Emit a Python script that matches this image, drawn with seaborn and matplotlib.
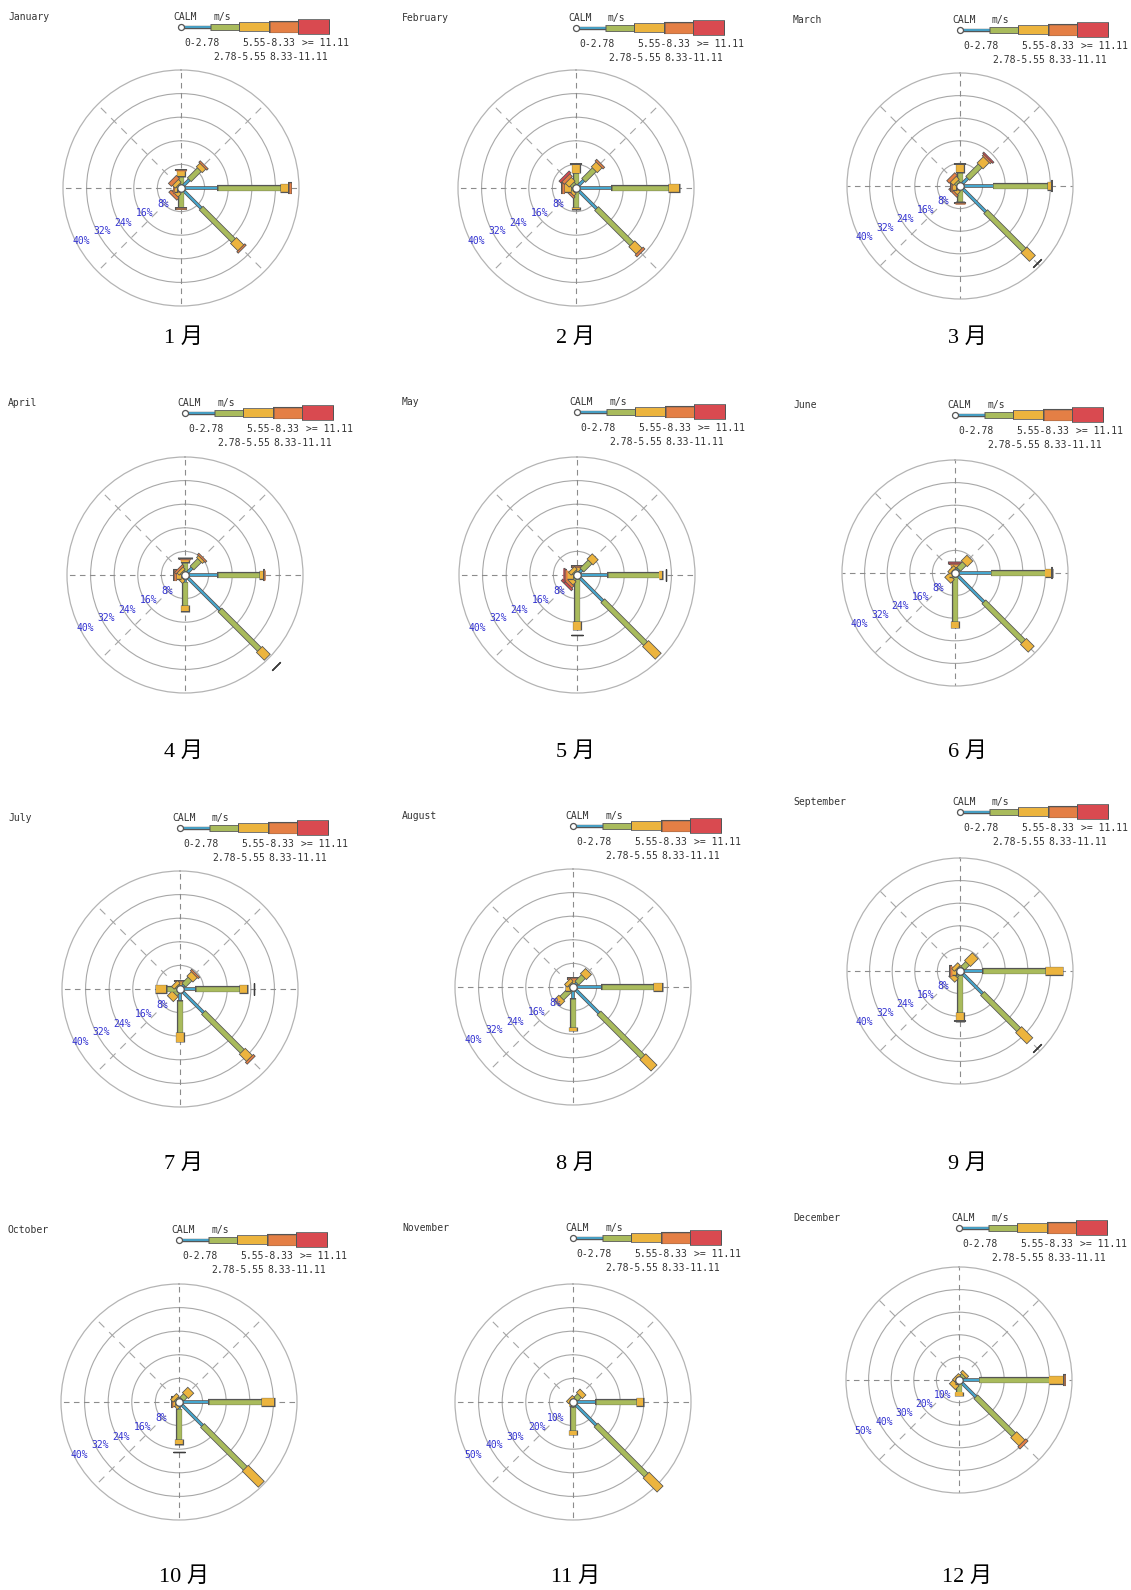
import numpy as np
import matplotlib
matplotlib.use("Agg")
import matplotlib.pyplot as plt
import seaborn as sns

sns.set_theme(style="white")
plt.rcParams['font.family'] = ['DejaVu Sans Mono', 'DejaVu Sans']

# ---- data ----
MONTHS = ['January', 'February', 'March', 'April', 'May', 'June',
          'July', 'August', 'September', 'October', 'November', 'December']
MONTH_LABELS = ['1 月', '2 月', '3 月', '4 月', '5 月', '6 月',
                '7 月', '8 月', '9 月', '10 月', '11 月', '12 月']
DIRECTIONS = ['N', 'NE', 'E', 'SE', 'S', 'SW', 'W', 'NW']
DIR_DEG = [0, 45, 90, 135, 180, 225, 270, 315]
SPEED_CLASSES = ['0-2.78', '2.78-5.55', '5.55-8.33', '8.33-11.11', '>= 11.11']
CLASS_COLORS = ['#46a7cf', '#a9bb5c', '#ecb43e', '#e47f45', '#d94a50']

# frequency (%) per direction (rows N..NW) and speed class (columns)
JAN = [[0.8, 3.1, 2.0, 0.2, 0], [4.1, 4.8, 1.7, 0.4, 0], [12.5, 21.3, 2.8, 0.7, 0],
       [9.8, 15.5, 3.5, 0.4, 0], [1.0, 5.6, 0.2, 0.3, 0], [0.5, 1.0, 1.5, 0.8, 0],
       [0.5, 0.7, 1.2, 0.2, 0], [0.5, 1.0, 1.3, 1.2, 0]]
FEB = [[0.8, 4.4, 2.8, 0.2, 0], [3.8, 5.1, 2.3, 0.5, 0], [12.3, 19.3, 3.3, 0, 0],
       [10.0, 16.9, 3.5, 0.6, 0], [1.0, 5.8, 0.4, 0, 0], [0.5, 1.0, 1.0, 0.5, 0],
       [0.5, 1.3, 2.2, 0.8, 0], [0.5, 1.5, 1.8, 1.2, 0.6]]
MAR = [[0.8, 4.0, 2.9, 0.1, 0], [4.0, 6.2, 3.1, 0.7, 0.3], [11.8, 19.3, 1.3, 0.2, 0],
       [13.0, 19.2, 3.9, 0, 0], [1.0, 4.5, 0.5, 0.2, 0], [0.4, 1.1, 1.5, 0.5, 0],
       [0.4, 1.1, 1.3, 0.4, 0], [0.4, 1.6, 1.5, 1.0, 0]]
APR = [[0.8, 3.6, 0.8, 0.4, 0.3], [3.5, 3.6, 0.9, 0.4, 0], [11.1, 14.2, 1.4, 0.3, 0],
       [16.9, 18.9, 3.5, 0, 0], [2.5, 8.1, 1.6, 0, 0], [0.5, 1.0, 1.0, 0, 0],
       [0.5, 1.0, 1.5, 0.7, 0], [0.5, 1.0, 1.0, 0.5, 0]]
MAY = [[0.5, 1.0, 1.3, 0.2, 0], [2.5, 3.9, 2.2, 0, 0], [10.6, 17.3, 0.9, 0, 0],
       [12.5, 20.5, 5.8, 0, 0], [1.5, 14.5, 2.5, 0, 0], [0.5, 1.5, 1.5, 1.0, 0.5],
       [0.5, 1.0, 2.0, 0.8, 0.3], [0.5, 1.0, 1.0, 0, 0]]
JUN = [[0.5, 1.5, 1.0, 0.5, 0.3], [2.0, 2.8, 2.5, 0, 0], [12.9, 19.1, 2.3, 0.2, 0],
       [14.6, 19.8, 3.6, 0, 0], [1.5, 15.9, 1.9, 0, 0], [0.5, 1.5, 1.5, 0, 0],
       [0.5, 0.7, 0.8, 0, 0], [0.5, 0.7, 0.8, 0, 0]]
JUL = [[0.5, 1.0, 1.0, 0.3, 0], [2.0, 2.9, 2.1, 0.4, 0], [5.4, 14.8, 2.6, 0, 0],
       [11.4, 18.6, 3.4, 0.6, 0], [3.9, 10.9, 3.0, 0, 0], [0.5, 2.0, 2.0, 0, 0],
       [1.0, 3.8, 3.3, 0, 0], [0.5, 1.0, 1.0, 0, 0]]
AUG = [[0.5, 1.0, 1.0, 0.5, 0], [2.0, 3.1, 2.2, 0, 0], [9.8, 17.6, 2.8, 0, 0],
       [12.6, 21.0, 5.1, 0, 0], [4.0, 9.8, 1.0, 0, 0], [1.0, 4.5, 2.0, 0, 0],
       [0.5, 0.5, 1.5, 0, 0], [0.5, 1.0, 1.0, 0, 0]]
SEP = [[0.5, 0.7, 0.8, 0, 0], [1.5, 2.4, 3.6, 0, 0], [8.1, 22.2, 6.0, 0, 0],
       [11.4, 18.1, 5.3, 0, 0], [1.5, 13.2, 2.9, 0.2, 0], [0.5, 2.0, 1.5, 0, 0],
       [0.5, 1.0, 1.5, 0.5, 0], [0.5, 1.0, 1.0, 0, 0]]
OCT = [[0.5, 0.5, 0.5, 0, 0], [1.5, 1.7, 2.3, 0, 0], [10.0, 18.0, 4.2, 0, 0],
       [11.4, 20.5, 7.4, 0, 0], [2.5, 10.3, 1.6, 0, 0], [0.5, 0.7, 0.8, 0, 0],
       [0.5, 1.0, 0.7, 0.3, 0], [0.5, 1.0, 1.0, 0, 0]]
NOV = [[0.5, 0.5, 0.5, 0, 0], [1.5, 2.5, 1.8, 0, 0], [9.7, 17.5, 2.5, 0, 0],
       [14.0, 30.0, 8.0, 0, 0], [2.0, 10.2, 1.6, 0, 0], [0.5, 0.5, 0.5, 0, 0],
       [0.5, 0.5, 0.5, 0, 0], [0.5, 0.5, 1.0, 0, 0]]
DEC = [[0.5, 0.5, 0.5, 0, 0], [1.0, 2.0, 1.0, 0, 0], [9.0, 31.0, 6.5, 0.5, 0],
       [10.7, 23.7, 5.1, 1.0, 0], [1.0, 4.5, 1.4, 0, 0], [0.5, 1.5, 2.0, 0, 0],
       [0.5, 0.5, 0.5, 0, 0], [0.5, 0.5, 1.0, 0, 0]]
FREQ = [JAN, FEB, MAR, APR, MAY, JUN, JUL, AUG, SEP, OCT, NOV, DEC]
RING_STEP = [8, 8, 8, 8, 8, 8, 8, 8, 8, 8, 10, 10]

# detached end marks (month index -> list of (direction, %))
MARKS = {2: [('SE', 38.5)], 3: [('SE', 43.5)], 4: [('E', 30.0), ('S', 20.4)],
         6: [('E', 25.2)], 8: [('SE', 38.6)], 9: [('S', 16.9)]}

# ---- layout (figure pixels) ----
W, H = 1131, 1590
PT = 0.72  # points per pixel at dpi 100
CENTERS = [(181, 188), (576, 188), (960, 186),
           (185, 575), (577, 575), (955, 573),
           (180, 989), (573, 987), (960, 971),
           (179, 1402), (573, 1402), (959, 1380)]
COL_RADIUS = [118, 118, 113]
TITLE_X = [8, 402, 793]
TITLE_Y = [17, 18, 20, 403, 402, 405, 818, 816, 802, 1230, 1228, 1218]
LABEL_X = [184, 576, 967]
LABEL_Y = [338, 752, 1164, 1577]
BAR_W = [2.0, 4.6, 7.6, 10.5, 13.5]
LEG_W = [1.8, 5.2, 8.0, 10.5, 14.0]
LBL_ANG = [42, 35, 31, 29, 28]
LBL_FAC = [1.0, 0.93, 0.95, 0.95, 0.96]
EDGE = '#555555'
TXT = '#333333'


def draw_rose(fig, i):
    cx, cy = CENTERS[i]
    R = COL_RADIUS[i % 3]
    step = RING_STEP[i]
    rmax = step * 5
    ax = fig.add_axes([(cx - R) / W, 1 - (cy + R) / H, 2 * R / W, 2 * R / H],
                      projection='polar')
    ax.set_theta_zero_location('N')
    ax.set_theta_direction(-1)
    ax.set_ylim(0, rmax)
    ax.set_xticks(np.deg2rad(DIR_DEG))
    ax.set_xticklabels([])
    ax.set_yticks([step * k for k in range(1, 5)])
    ax.set_yticklabels([])
    ax.tick_params(length=0)
    ax.grid(True, axis='y', color='#a8a8a8', lw=0.8, ls='-')
    ax.grid(False, axis='x')
    ax.spines['polar'].set_color('#b4b4b4')
    ax.spines['polar'].set_linewidth(0.9)
    ax.set_axisbelow(True)
    ax.set_facecolor('none')

    # dashed spokes; diagonal ones are lighter and start off the centre
    for deg in DIR_DEG:
        th = np.deg2rad(deg)
        if deg % 90 == 0:
            ax.plot([th, th], [0, rmax], color='#8c8c8c', lw=0.8,
                    ls=(0, (5, 4)), zorder=1)
        else:
            ax.plot([th, th], [step * 0.8, rmax], color='#a6a6a6', lw=0.8,
                    ls=(0, (7, 6)), zorder=1)

    ppu = R / rmax
    d = 0.8 / ppu
    freq = np.array(FREQ[i], dtype=float)
    for j, deg in enumerate(DIR_DEG):
        th = np.deg2rad(deg)
        cum = np.concatenate([[0], np.cumsum(freq[j])])
        for k in range(len(SPEED_CLASSES)):
            if freq[j][k] <= 0:
                continue
            r0, r1 = cum[k], cum[k + 1]
            ax.plot([th, th], [max(r0 - d, 0), r1 + d], color=EDGE,
                    lw=(BAR_W[k] + 1.6) * PT, solid_capstyle='butt',
                    zorder=3, clip_on=False)
            ax.plot([th, th], [r0, r1], color=CLASS_COLORS[k],
                    lw=BAR_W[k] * PT, solid_capstyle='butt',
                    zorder=3, clip_on=False)

    for dname, val in MARKS.get(i, []):
        deg = DIR_DEG[DIRECTIONS.index(dname)]
        ax.plot(np.deg2rad(deg), val, marker=(2, 2, 90 - deg), ms=12 * PT,
                mew=1.3 * PT, color='#3c3c3c', zorder=4, clip_on=False)

    # calm circle
    ax.plot(0, 0, 'o', ms=7.5 * PT, mfc='white', mec=EDGE, mew=0.9,
            zorder=6, clip_on=False)

    for k in range(1, 6):
        v = step * k
        ax.text(np.deg2rad(270 - LBL_ANG[k - 1]), v * LBL_FAC[k - 1], f'{v}%',
                color='#3232d2', fontsize=7, ha='center', va='center', zorder=7)


def draw_header(ov, i):
    col = i % 3
    cx = CENTERS[i][0]
    ty = TITLE_Y[i]
    ov.text(TITLE_X[col], ty, MONTHS[i], fontsize=7, color=TXT, ha='left', va='center')

    # legend key
    ly = ty + 10
    ov.text(cx - 8, ty, 'CALM', fontsize=7, color=TXT, ha='left', va='center')
    ov.text(cx + 32, ty, 'm/s', fontsize=7, color=TXT, ha='left', va='center')
    edges = [3, 30, 59, 89, 118, 148]
    for k in range(len(SPEED_CLASSES)):
        x0, x1 = cx + edges[k], cx + edges[k + 1]
        ov.plot([x0 - 0.8, x1 + 0.8], [ly, ly], color=EDGE, lw=(LEG_W[k] + 1.6) * PT,
                solid_capstyle='butt', zorder=3)
        ov.plot([x0, x1], [ly, ly], color=CLASS_COLORS[k], lw=LEG_W[k] * PT,
                solid_capstyle='butt', zorder=3)
    ov.plot(cx, ly, 'o', ms=6 * PT, mfc='white', mec=EDGE, mew=0.9, zorder=4)
    line1 = [(3, SPEED_CLASSES[0]), (61, SPEED_CLASSES[2]), (121, SPEED_CLASSES[4])]
    line2 = [(32, SPEED_CLASSES[1]), (88, SPEED_CLASSES[3])]
    for dx, s in line1:
        ov.text(cx + dx, ly + 16, s, fontsize=7, color=TXT, ha='left', va='center')
    for dx, s in line2:
        ov.text(cx + dx, ly + 30, s, fontsize=7, color=TXT, ha='left', va='center')

    # month label under the rose
    ov.text(LABEL_X[col], LABEL_Y[i // 3], MONTH_LABELS[i], fontsize=16, color='black',
            ha='center', va='center', family=['Liberation Serif', 'Noto Sans CJK JP'])


fig = plt.figure(figsize=(W / 100, H / 100), dpi=100)
fig.patch.set_facecolor('white')
ov = fig.add_axes([0, 0, 1, 1])
ov.set_xlim(0, W)
ov.set_ylim(H, 0)
ov.axis('off')

for i in range(12):
    draw_header(ov, i)
    draw_rose(fig, i)

fig.savefig('out.png', dpi=100, facecolor='white')
